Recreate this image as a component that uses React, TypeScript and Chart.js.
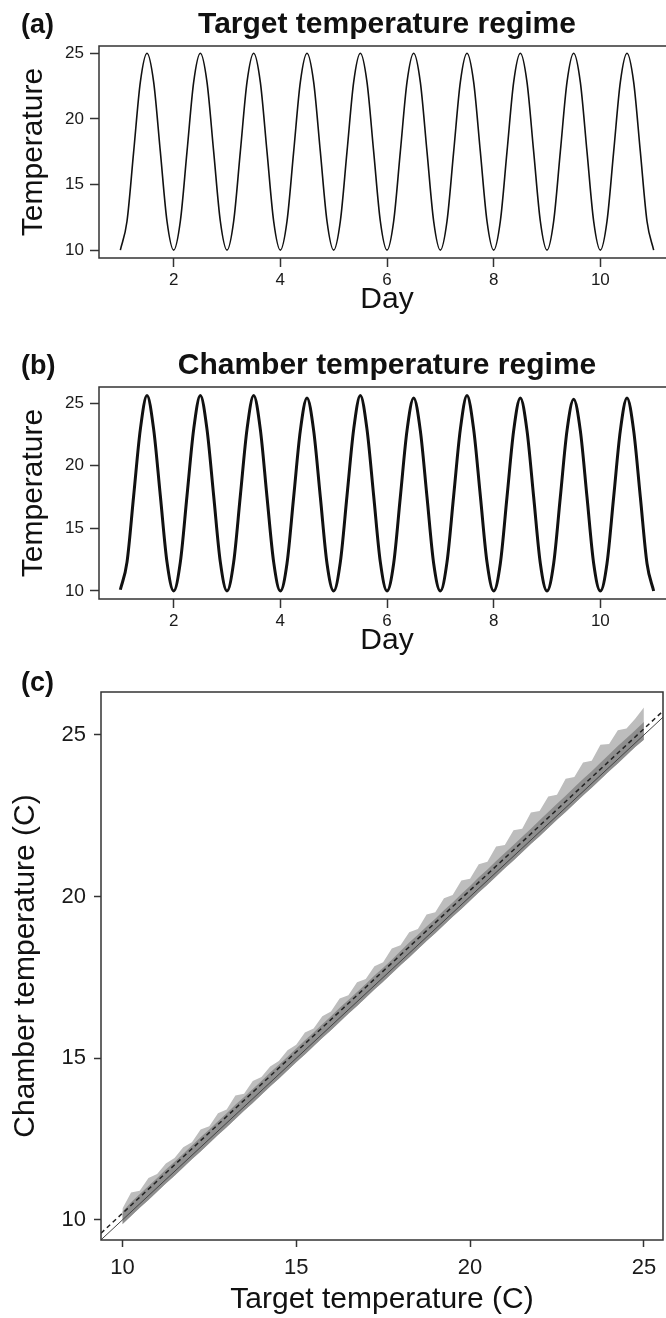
import { useEffect, useRef } from 'react';
import { Chart, registerables } from 'chart.js';

Chart.register(...registerables);

const FONT = "'Liberation Sans', Arial, Helvetica, sans-serif";

// ---------- Panels (a) and (b): time series ----------
const dayGrid = [
  1, 1.125, 1.25, 1.375, 1.5, 1.625, 1.75, 1.875,
  2, 2.125, 2.25, 2.375, 2.5, 2.625, 2.75, 2.875,
  3, 3.125, 3.25, 3.375, 3.5, 3.625, 3.75, 3.875,
  4, 4.125, 4.25, 4.375, 4.5, 4.625, 4.75, 4.875,
  5, 5.125, 5.25, 5.375, 5.5, 5.625, 5.75, 5.875,
  6, 6.125, 6.25, 6.375, 6.5, 6.625, 6.75, 6.875,
  7, 7.125, 7.25, 7.375, 7.5, 7.625, 7.75, 7.875,
  8, 8.125, 8.25, 8.375, 8.5, 8.625, 8.75, 8.875,
  9, 9.125, 9.25, 9.375, 9.5, 9.625, 9.75, 9.875,
  10, 10.125, 10.25, 10.375, 10.5, 10.625, 10.75, 10.875,
  11,
];

const targetTemp = [
  10, 12.2, 17.5, 22.8, 25, 22.8, 17.5, 12.2,
  10, 12.2, 17.5, 22.8, 25, 22.8, 17.5, 12.2,
  10, 12.2, 17.5, 22.8, 25, 22.8, 17.5, 12.2,
  10, 12.2, 17.5, 22.8, 25, 22.8, 17.5, 12.2,
  10, 12.2, 17.5, 22.8, 25, 22.8, 17.5, 12.2,
  10, 12.2, 17.5, 22.8, 25, 22.8, 17.5, 12.2,
  10, 12.2, 17.5, 22.8, 25, 22.8, 17.5, 12.2,
  10, 12.2, 17.5, 22.8, 25, 22.8, 17.5, 12.2,
  10, 12.2, 17.5, 22.8, 25, 22.8, 17.5, 12.2,
  10, 12.2, 17.5, 22.8, 25, 22.8, 17.5, 12.2,
  10,
];

const chamberTemp = [
  10.1, 12.3, 17.6, 22.9, 25.6, 22.9, 17.6, 12.3,
  10.0, 12.3, 17.6, 22.9, 25.6, 22.9, 17.6, 12.3,
  10.0, 12.3, 17.6, 22.9, 25.6, 22.9, 17.5, 12.3,
  10.0, 12.2, 17.5, 22.8, 25.4, 22.8, 17.5, 12.2,
  10.0, 12.3, 17.6, 22.9, 25.6, 22.9, 17.6, 12.3,
  10.0, 12.2, 17.5, 22.8, 25.4, 22.8, 17.5, 12.2,
  10.0, 12.3, 17.6, 22.9, 25.6, 22.9, 17.6, 12.3,
  10.0, 12.2, 17.5, 22.8, 25.4, 22.8, 17.5, 12.2,
  10.0, 12.2, 17.5, 22.8, 25.3, 22.8, 17.5, 12.2,
  10.0, 12.2, 17.5, 22.8, 25.4, 22.8, 17.5, 12.2,
  10.0,
];

const dayTicks = [2, 4, 6, 8, 10];
const tempTicks = [10, 15, 20, 25];

// ---------- Panel (c): chamber vs target ----------
const bandTarget = [
  10, 10.25, 10.5, 10.75, 11, 11.25, 11.5, 11.75, 12, 12.25, 12.5, 12.75,
  13, 13.25, 13.5, 13.75, 14, 14.25, 14.5, 14.75, 15, 15.25, 15.5, 15.75,
  16, 16.25, 16.5, 16.75, 17, 17.25, 17.5, 17.75, 18, 18.25, 18.5, 18.75,
  19, 19.25, 19.5, 19.75, 20, 20.25, 20.5, 20.75, 21, 21.25, 21.5, 21.75,
  22, 22.25, 22.5, 22.75, 23, 23.25, 23.5, 23.75, 24, 24.25, 24.5, 24.75,
  25,
];
const bandLower = [
  9.87, 10.12, 10.38, 10.62, 10.87, 11.13, 11.37, 11.62, 11.88, 12.12, 12.37, 12.63,
  12.87, 13.12, 13.38, 13.62, 13.87, 14.13, 14.37, 14.62, 14.88, 15.12, 15.37, 15.63,
  15.87, 16.12, 16.38, 16.62, 16.87, 17.13, 17.37, 17.62, 17.88, 18.12, 18.37, 18.63,
  18.87, 19.12, 19.38, 19.62, 19.87, 20.13, 20.37, 20.62, 20.88, 21.12, 21.37, 21.63,
  21.87, 22.12, 22.38, 22.62, 22.87, 23.13, 23.37, 23.62, 23.88, 24.12, 24.37, 24.63,
  24.85,
];
const bandCore = [
  10.25, 10.55, 10.8, 11.05, 11.3, 11.56, 11.8, 12.05, 12.3, 12.56, 12.8, 13.05,
  13.3, 13.56, 13.8, 14.05, 14.3, 14.56, 14.8, 15.05, 15.3, 15.56, 15.8, 16.05,
  16.3, 16.56, 16.8, 17.05, 17.3, 17.56, 17.8, 18.05, 18.32, 18.58, 18.82, 19.08,
  19.32, 19.58, 19.82, 20.08, 20.33, 20.6, 20.84, 21.1, 21.35, 21.6, 21.85, 22.1,
  22.36, 22.62, 22.87, 23.12, 23.38, 23.64, 23.88, 24.14, 24.4, 24.66, 24.9, 25.15,
  25.4,
];
const bandUpper = [
  10.35, 10.85, 10.9, 11.3, 11.42, 11.75, 11.92, 12.25, 12.4, 12.8, 12.9, 13.3,
  13.42, 13.85, 13.9, 14.3, 14.42, 14.75, 14.92, 15.25, 15.42, 15.8, 15.92, 16.3,
  16.45, 16.85, 16.95, 17.35, 17.45, 17.85, 17.97, 18.4, 18.5, 18.9, 19.0, 19.45,
  19.52, 19.95, 20.05, 20.5, 20.55, 21.0, 21.08, 21.55, 21.6, 22.05, 22.1, 22.6,
  22.65, 23.1, 23.15, 23.65, 23.7, 24.15, 24.2, 24.7, 24.72, 25.15, 25.2, 25.5,
  25.85,
];
const identityX = [9.385, 25.55];
const identityY = [9.385, 25.55];
const fitX = [9.385, 25.55];
const fitY = [9.59, 25.74];

// ---------- helpers ----------
const pts = (xs: number[], ys: number[]) => xs.map((x, i) => ({ x, y: ys[i] }));

const framePlugin = {
  id: 'frame',
  afterDraw(chart: any, _args: any, opts: any) {
    const { ctx, chartArea: a } = chart;
    ctx.save();
    ctx.strokeStyle = '#333';
    ctx.lineWidth = 1.5;
    ctx.strokeRect(a.left, a.top, a.right - a.left, a.bottom - a.top);
    ctx.fillStyle = '#111';
    ctx.textBaseline = 'alphabetic';
    ctx.textAlign = 'left';
    ctx.font = `bold 27px ${FONT}`;
    ctx.fillText(opts.letter, 21, opts.baseline);
    if (opts.title) {
      ctx.font = `bold 30px ${FONT}`;
      ctx.textAlign = 'center';
      ctx.fillText(opts.title, (a.left + a.right) / 2, opts.baseline);
    }
    ctx.restore();
  },
};

function axis(opts: {
  min: number; max: number; ticks: number[]; fit: (s: any) => void;
  size: number; tickLen: number; pad: number; title: string; titlePad: any;
}) {
  return {
    type: 'linear',
    min: opts.min,
    max: opts.max,
    afterBuildTicks: (s: any) => { s.ticks = opts.ticks.map((v) => ({ value: v })); },
    afterFit: opts.fit,
    grid: {
      display: true, drawOnChartArea: false, drawTicks: true,
      tickLength: opts.tickLen, tickWidth: 1.5, tickColor: '#333',
    },
    border: { display: false },
    ticks: {
      font: { family: FONT, size: opts.size }, color: '#1a1a1a',
      padding: opts.pad, maxRotation: 0, autoSkip: false,
    },
    title: {
      display: true, text: opts.title, color: '#111',
      font: { family: FONT, size: 30 }, padding: opts.titlePad,
    },
  };
}

function timeConfig(letter: string, title: string, values: number[], yMin: number, yMax: number, lw: number) {
  return {
    type: 'line',
    data: {
      datasets: [{
        data: pts(dayGrid, values),
        borderColor: '#111', borderWidth: lw, pointRadius: 0,
        cubicInterpolationMode: 'monotone', fill: false,
      }],
    },
    options: {
      animation: false, responsive: false, devicePixelRatio: 1, events: [],
      layout: { padding: { top: 46, right: 15, left: 0, bottom: 0 } },
      plugins: { legend: { display: false }, tooltip: { enabled: false }, frame: { letter, title, baseline: 33 } },
      scales: {
        x: axis({ min: 0.6, max: 11.4, ticks: dayTicks, fit: (s: any) => { s.height = 61; }, size: 17, tickLen: 9, pad: 3, title: 'Day', titlePad: { top: 0, bottom: 1 } }),
        y: axis({ min: yMin, max: yMax, ticks: tempTicks, fit: (s: any) => { s.width = 99; }, size: 17, tickLen: 9, pad: 6, title: 'Temperature', titlePad: { top: 16, bottom: 0 } }),
      },
    },
    plugins: [framePlugin],
  };
}

function scatterConfig() {
  const base = { pointRadius: 0, tension: 0, borderColor: 'transparent', borderWidth: 0 };
  return {
    type: 'line',
    data: {
      datasets: [
        { ...base, data: pts(fitX, fitY), borderColor: '#222', borderWidth: 1.5, borderDash: [4.5, 3.5], fill: false },
        { ...base, data: pts(identityX, identityY), borderColor: '#444', borderWidth: 1, fill: false },
        { ...base, data: pts(bandTarget, bandCore), fill: '+1', backgroundColor: '#8e8e8e' },
        { ...base, data: pts(bandTarget, bandLower), fill: false },
        { ...base, data: pts(bandTarget, bandUpper), fill: '+1', backgroundColor: '#bdbdbd' },
        { ...base, data: pts(bandTarget, bandLower), fill: false },
      ],
    },
    options: {
      animation: false, responsive: false, devicePixelRatio: 1, events: [],
      layout: { padding: { top: 32, right: 3, left: 0, bottom: 0 } },
      plugins: { legend: { display: false }, tooltip: { enabled: false }, frame: { letter: '(c)', title: '', baseline: 31 } },
      scales: {
        x: axis({ min: 9.385, max: 25.55, ticks: tempTicks, fit: (s: any) => { s.height = 78; }, size: 22, tickLen: 7, pad: 8, title: 'Target temperature (C)', titlePad: { top: 0, bottom: 0 } }),
        y: axis({ min: 9.38, max: 26.33, ticks: tempTicks, fit: (s: any) => { s.width = 101; }, size: 22, tickLen: 7, pad: 8, title: 'Chamber temperature (C)', titlePad: { top: 8, bottom: 0 } }),
      },
    },
    plugins: [framePlugin],
  };
}

function Panel({ make, top, width, height }: { make: () => any; top: number; width: number; height: number }) {
  const ref = useRef<HTMLCanvasElement>(null);
  useEffect(() => {
    const chart = new Chart(ref.current as HTMLCanvasElement, make());
    return () => chart.destroy();
  }, []);
  return (
    <canvas
      ref={ref}
      width={width}
      height={height}
      style={{ position: 'absolute', left: 0, top, width, height, display: 'block' }}
    />
  );
}

export default function App() {
  return (
    <div style={{ position: 'absolute', left: 0, top: 0, width: 666, height: 1318, overflow: 'hidden', background: '#fff' }}>
      <Panel top={0} width={690} height={319}
        make={() => timeConfig('(a)', 'Target temperature regime', targetTemp, 9.4, 25.55, 1.6)} />
      <Panel top={341} width={690} height={319}
        make={() => timeConfig('(b)', 'Chamber temperature regime', chamberTemp, 9.36, 26.28, 3)} />
      <Panel top={660} width={666} height={658} make={scatterConfig} />
    </div>
  );
}
